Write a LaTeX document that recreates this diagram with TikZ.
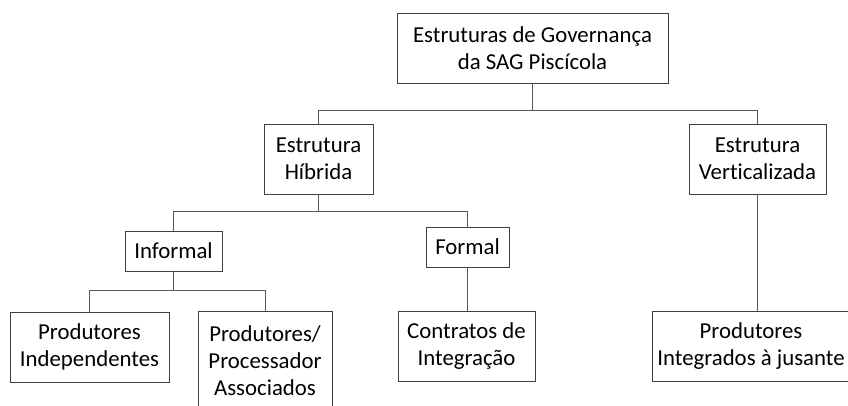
\documentclass[tikz,border=0pt]{standalone}
\usepackage{fontspec}
\setmainfont{Carlito}[Ligatures=NoCommon]
\usetikzlibrary{positioning}

\begin{document}
\begin{tikzpicture}[
    x=1pt, y=-1pt,
    box/.style={rectangle, draw=black!75, line width=0.9pt, align=center, inner sep=2pt, font=\fontsize{22.8}{27}\selectfont},
    link/.style={draw=black!65, line width=0.9pt}
]
\useasboundingbox (0,0) rectangle (848,405);

\node[box, minimum width=271pt, minimum height=70pt] (gov) at (532.5,48) {Estruturas de Governança\\da SAG Piscícola};
\node[box, minimum width=109pt, minimum height=70pt] (hib) at (318.5,159) {Estrutura\\Híbrida};
\node[box, minimum width=137pt, minimum height=70pt] (vert) at (757.5,159) {Estrutura\\Verticalizada};
\node[box, minimum width=97pt, minimum height=40pt] (inf) at (173.5,251) {Informal};
\node[box, minimum width=83pt, minimum height=40pt] (form) at (467.5,247) {Formal};
\node[box, minimum width=159pt, minimum height=70pt] (ind) at (89.5,347) {Produtores\\Independentes};
\node[box, minimum width=134pt, minimum height=100pt] (proc) at (265,361) {Produtores/\\Processador\\Associados};
\node[box, minimum width=137pt, minimum height=70pt] (contr) at (466.5,346) {Contratos de\\Integração};
\node[box, minimum width=198pt, minimum height=70pt] (integ) at (751,346) {Produtores\\Integrados à jusante};

\draw[link] (gov.south) -- ++(0,27) -| (hib.north);
\draw[link] (gov.south) -- ++(0,27) -| (vert.north);
\draw[link] (hib.south) -- ++(0,17) -| (inf.north);
\draw[link] (hib.south) -- ++(0,17) -| (form.north);
\draw[link] (inf.south) -- ++(0,19) -| (ind.north);
\draw[link] (inf.south) -- ++(0,19) -| (proc.north);
\draw[link] (form.south) -- (form.south |- contr.north);
\draw[link] (vert.south) -- (vert.south |- integ.north);

\end{tikzpicture}
\end{document}
